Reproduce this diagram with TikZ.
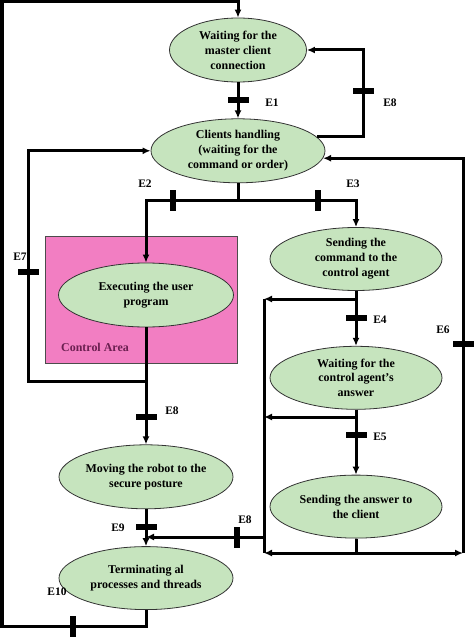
\documentclass[tikz,border=0pt]{standalone}
\usepackage{fontspec}
\setmainfont{Liberation Serif}
\usetikzlibrary{arrows.meta,positioning,shapes}

\definecolor{stategreen}{HTML}{C6E4BE}
\definecolor{areapink}{HTML}{F27EC2}
\definecolor{areatext}{HTML}{6A1F50}

\begin{document}
\begin{tikzpicture}[x=1bp,y=-1bp,>={Latex[length=8bp,width=7bp]}]
	\tikzstyle{phase}
	  =[draw=black!80, line width=0.8bp, fill=stategreen, ellipse,
	  minimum width=172bp, minimum height=63bp, inner sep=0pt,
	  align=center, font=\fontsize{12}{15}\selectfont\bfseries]
	\tikzstyle{flow}=[->, line width=3bp]
	\tikzstyle{link}=[line width=3bp]
	\tikzstyle{hbar}=[fill=black, rectangle, minimum width=21bp,
	  minimum height=6bp, inner sep=0pt]
	\tikzstyle{vbar}=[fill=black, rectangle, minimum width=6bp,
	  minimum height=21bp, inner sep=0pt]
	\tikzstyle{event}=[font=\fontsize{11.5}{13}\selectfont\bfseries, inner sep=0pt]

	\useasboundingbox (0,0) rectangle (474,637);

	% control area
	\node[draw=black!70, line width=0.8bp, fill=areapink, minimum width=192bp,
	  minimum height=127bp, inner sep=0pt] (Z) at (141,299.5) {};
	\node[inner sep=0pt, text=areatext, font=\fontsize{12}{14}\selectfont\bfseries] (z)
	  at (95,347) {Control Area};

	% states
	\node[phase, minimum width=137bp, minimum height=64bp] (A)
	  at (238,50) {Waiting for the\\master client\\connection};
	\node[phase, minimum width=174bp, minimum height=64bp] (B)
	  [below=36bp of A] {Clients handling\\(waiting for the\\command or order)};
	\node[phase, minimum width=175bp, minimum height=64bp] (C)
	  at (146,295) {Executing the user\\program};
	\node[phase] (D)
	  at (356,259) {Sending the\\command to the\\control agent};
	\node[phase] (E)
	  [below=55bp of D] {Waiting for the\\control agent's\\answer};
	\node[phase] (F)
	  [below=65bp of E] {Sending the answer to\\the client};
	\node[phase, minimum width=174bp, minimum height=64bp] (G)
	  [below=117bp of C] {Moving the robot to the\\secure posture};
	\node[phase, minimum width=174bp] (H)
	  [below=37bp of G] {Terminating al\\processes and threads};

	% corners and junctions
	\coordinate (top) at (2,2);
	\coordinate (bot) at (2,626);
	\coordinate (r8) at (363,50);
	\coordinate (split) at (238,200);
	\coordinate (j7) at (146,381);
	\coordinate (l7) at (28,381);
	\coordinate (k4) at (356,299);
	\coordinate (m4) at (264,299);
	\coordinate (k5) at (356,417);
	\coordinate (m5) at (264,417);
	\coordinate (k6) at (356,553);
	\coordinate (m6) at (264,553);
	\coordinate (r6) at (463,553);
	\coordinate (m8) at (264,537);
	\coordinate (j9) at (146,537);

	% transitions
	\draw[flow] (A) -- (B);
	\draw[flow] (B.10) -| (r8) -- (A.east);
	\draw[link] (B) -- (split);
	\draw[flow] (split) -| (C);
	\draw[flow] (split) -| (D);
	\draw[flow] (C) -- (G);
	\draw[flow] (j7) -- (l7) |- (B.west);
	\draw[flow] (D) -- (E);
	\draw[flow] (E) -- (F);
	\draw[flow] (k4) -- (m4);
	\draw[flow] (k5) -- (m5);
	\draw[link] (F) -- (k6);
	\draw[flow] (k6) -- (m6);
	\draw[flow] (k6) -- (r6);
	\draw[link] (m4) -- (m6);
	\draw[flow] (r6) |- (B.-5);
	\draw[flow] (m8) -- (j9);
	\draw[flow] (G) -- (H);
	\draw[flow] (H) |- (bot) -- (top) -| (A);

	% events
	\node[hbar] (t1) at (238,100) {};
	\node[event] (e1) at (272,103) {E1};
	\node[hbar] (t8a) at (363,91) {};
	\node[event] (e8a) at (390,103) {E8};
	\node[hbar] (t7) at (28,272) {};
	\node[event] (e7) at (20,257) {E7};
	\node[vbar] (t2) at (173,200) {};
	\node[event] (e2) at (145,184) {E2};
	\node[vbar] (t3) at (318,200) {};
	\node[event] (e3) at (353,184) {E3};
	\node[hbar] (t4) at (356,318) {};
	\node[event] (e4) at (380,320) {E4};
	\node[hbar] (t5) at (356,435) {};
	\node[event] (e5) at (380,437) {E5};
	\node[hbar] (t6) at (463,344) {};
	\node[event] (e6) at (443,330) {E6};
	\node[hbar] (t8b) at (146,417) {};
	\node[event] (e8b) at (172,411) {E8};
	\node[hbar] (t9) at (146,527) {};
	\node[event] (e9) at (118,528) {E9};
	\node[vbar] (t8c) at (237,537) {};
	\node[event] (e8c) at (245,520) {E8};
	\node[vbar] (t10) at (73,626) {};
	\node[event] (e10) at (57,592) {E10};
\end{tikzpicture}
\end{document}
